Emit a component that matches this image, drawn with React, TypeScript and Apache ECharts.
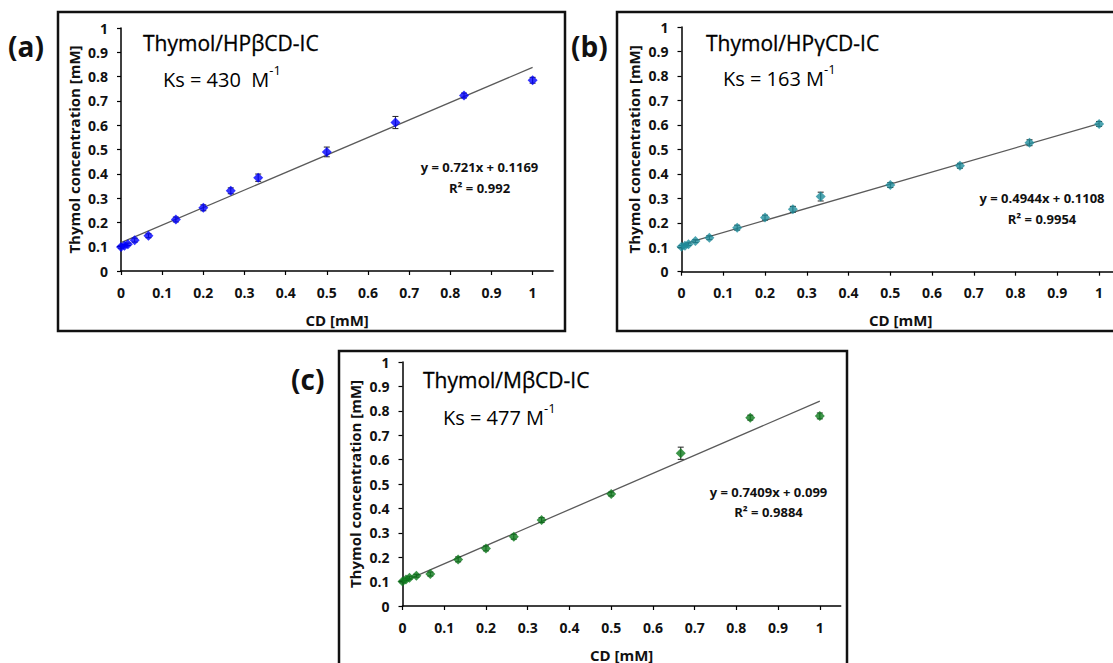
import React, { useEffect, useRef } from "react";
import * as echarts from "echarts";

// ---- data ----
const cdConc = [0, 0.0083, 0.0167, 0.0333, 0.0667, 0.1333, 0.2, 0.2667, 0.3333, 0.5, 0.6667, 0.8333, 1];
const thymolA = [0.099, 0.104, 0.11, 0.127, 0.145, 0.212, 0.26, 0.33, 0.384, 0.49, 0.611, 0.722, 0.785];
const errA = [0.005, 0.005, 0.005, 0.008, 0.008, 0.01, 0.012, 0.012, 0.015, 0.02, 0.025, 0.01, 0.012];
const thymolB = [0.102, 0.106, 0.112, 0.125, 0.139, 0.18, 0.221, 0.255, 0.307, 0.354, 0.433, 0.527, 0.604];
const errB = [0.005, 0.005, 0.005, 0.006, 0.008, 0.01, 0.01, 0.012, 0.018, 0.01, 0.01, 0.012, 0.01];
const thymolC = [0.1, 0.109, 0.116, 0.124, 0.131, 0.191, 0.236, 0.284, 0.352, 0.459, 0.626, 0.772, 0.779];
const errC = [0.005, 0.005, 0.006, 0.006, 0.008, 0.01, 0.01, 0.01, 0.01, 0.008, 0.025, 0.01, 0.012];
const slopes = [0.721, 0.4944, 0.7409];
const intercepts = [0.1169, 0.1108, 0.099];
const xTicks = [0, 0.1, 0.2, 0.3, 0.4, 0.5, 0.6, 0.7, 0.8, 0.9, 1];
const panelLabels = ["(a)", "(b)", "(c)"];
const titles = ["Thymol/HPβCD-IC", "Thymol/HPγCD-IC", "Thymol/MβCD-IC"];
const ksTexts = ["Ks = 430  M", "Ks = 163 M", "Ks = 477 M"];
const eqTexts = ["y = 0.721x + 0.1169", "y = 0.4944x + 0.1108", "y = 0.7409x + 0.099"];
const r2Values = ["0.992", "0.9954", "0.9884"];
const colors = ["#0000ff", "#1f8d9c", "#0d7a1c"];
const yName = "Thymol concentration [mM]";
const xName = "CD [mM]";

const FONT = "'Open Sans', 'Noto Sans', sans-serif";

export default function App() {
  const ref = useRef<HTMLDivElement>(null);
  useEffect(() => {
    if (!ref.current) return;
    const chart = echarts.init(ref.current, undefined, { renderer: "svg" });
    const ys = [thymolA, thymolB, thymolC];
    const errs = [errA, errB, errC];

    const grids = [
      { left: 121, top: 28, width: 432.2, height: 243 },
      { left: 681.5, top: 27, width: 438.5, height: 244.7 },
      { left: 402.5, top: 362, width: 438.2, height: 244 },
    ].map((g) => ({ ...g, outerBoundsMode: "none", containLabel: false }));

    const axisCommon = {
      axisLine: { show: true, onZero: false, lineStyle: { color: "#000", width: 1.5 } },
      axisTick: { show: true, inside: false, length: 4, lineStyle: { color: "#000", width: 1.2 } },
      splitLine: { show: false },
      nameLocation: "middle",
      nameTextStyle: { fontFamily: FONT, fontWeight: "bold", fontSize: 15, color: "#111" },
    };

    const xAxis = [0, 1, 2].map((i) => ({
      ...axisCommon,
      type: "value",
      gridIndex: i,
      min: 0,
      max: 1.05,
      interval: 0.1,
      name: xName,
      nameGap: 41,
      axisTick: { ...axisCommon.axisTick, customValues: xTicks },
      axisLabel: {
        customValues: xTicks,
        margin: 14,
        fontFamily: FONT,
        fontWeight: "bold",
        fontSize: 14,
        color: "#111",
        formatter: (v: number) => String(v),
      },
    }));

    const yAxis = [0, 1, 2].map((i) => ({
      ...axisCommon,
      type: "value",
      gridIndex: i,
      min: 0,
      max: 1,
      interval: 0.1,
      name: yName,
      nameGap: 40,
      axisLabel: {
        margin: 13,
        fontFamily: FONT,
        fontWeight: "bold",
        fontSize: 14,
        color: "#111",
      },
    }));

    const series: any[] = [];
    [0, 1, 2].forEach((i) => {
      series.push({
        type: "line",
        xAxisIndex: i,
        yAxisIndex: i,
        data: [
          [0, intercepts[i]],
          [1, slopes[i] + intercepts[i]],
        ],
        showSymbol: false,
        symbol: "none",
        lineStyle: { color: "#5a5a5a", width: 1.3 },
        z: 2,
      });
      series.push({
        type: "custom",
        xAxisIndex: i,
        yAxisIndex: i,
        data: cdConc.map((x, k) => [x, ys[i][k], errs[i][k]]),
        encode: { x: 0, y: 1 },
        renderItem: (params: any, api: any) => {
          const x = api.value(0);
          const y = api.value(1);
          const e = api.value(2);
          const t = api.coord([x, y + e]);
          const b = api.coord([x, y - e]);
          const w = 3;
          const st = { stroke: "#222", lineWidth: 1 };
          return {
            type: "group",
            children: [
              { type: "line", shape: { x1: t[0], y1: t[1], x2: b[0], y2: b[1] }, style: st },
              { type: "line", shape: { x1: t[0] - w, y1: t[1], x2: t[0] + w, y2: t[1] }, style: st },
              { type: "line", shape: { x1: b[0] - w, y1: b[1], x2: b[0] + w, y2: b[1] }, style: st },
            ],
          };
        },
        z: 3,
      });
      series.push({
        type: "scatter",
        xAxisIndex: i,
        yAxisIndex: i,
        data: cdConc.map((x, k) => [x, ys[i][k]]),
        symbol: "diamond",
        symbolSize: 10,
        itemStyle: { color: colors[i] },
        z: 4,
      });
    });

    const boxes = [
      { x: 58, y: 12, width: 507, height: 319 },
      { x: 617, y: 12, width: 520, height: 319 },
      { x: 339, y: 351, width: 508, height: 330 },
    ];
    const labelPos = [
      [8, 46],
      [571, 46],
      [291, 379],
    ];
    const titlePos = [
      [143, 43],
      [706, 43],
      [423, 380],
    ];
    const ksPos = [
      [163, 76],
      [723, 75],
      [443, 414],
    ];
    const eqPos = [
      [479.5, 167, 188],
      [1042, 198, 218.5],
      [768.5, 492, 512],
    ];

    const graphic: any[] = [];
    [0, 1, 2].forEach((i) => {
      graphic.push({
        type: "rect",
        shape: boxes[i],
        style: { fill: "none", stroke: "#111", lineWidth: 2.5 },
        z: 10,
      });
      graphic.push({
        type: "text",
        x: labelPos[i][0],
        y: labelPos[i][1],
        style: {
          text: panelLabels[i],
          fontFamily: FONT,
          fontWeight: "bold",
          fontSize: 28,
          fill: "#111",
          textVerticalAlign: "middle",
        },
      });
      graphic.push({
        type: "text",
        x: titlePos[i][0],
        y: titlePos[i][1],
        style: {
          text: titles[i],
          fontFamily: FONT,
          fontSize: 21,
          fill: "#000",
          stroke: "#000",
          lineWidth: 0.3,
          textVerticalAlign: "middle",
        },
      });
      graphic.push({
        type: "text",
        x: ksPos[i][0],
        y: ksPos[i][1],
        style: {
          text: "{n|" + ksTexts[i] + "}{s|-1}",
          textVerticalAlign: "middle",
          rich: {
            n: { fontFamily: FONT, fontSize: 20, fill: "#000", color: "#000", lineHeight: 26, verticalAlign: "bottom" },
            s: { fontFamily: FONT, fontSize: 13, fill: "#000", color: "#000", lineHeight: 26, verticalAlign: "top" },
          },
        },
      });
      graphic.push({
        type: "text",
        x: eqPos[i][0],
        y: eqPos[i][1],
        style: {
          text: eqTexts[i],
          fontFamily: FONT,
          fontWeight: "bold",
          fontSize: 13,
          fill: "#111",
          textAlign: "center",
          textVerticalAlign: "middle",
        },
      });
      graphic.push({
        type: "text",
        x: eqPos[i][0],
        y: eqPos[i][2],
        style: {
          text: "R² = " + r2Values[i],
          fontFamily: FONT,
          fontWeight: "bold",
          fontSize: 13,
          fill: "#111",
          textAlign: "center",
          textVerticalAlign: "middle",
        },
      });
    });

    chart.setOption({
      animation: false,
      backgroundColor: "#fff",
      grid: grids,
      xAxis,
      yAxis,
      series,
      graphic,
    } as any);
    return () => chart.dispose();
  }, []);

  return (
    <div
      ref={ref}
      style={{ position: "fixed", left: 0, top: 0, width: 1113, height: 663, background: "#fff" }}
    />
  );
}
